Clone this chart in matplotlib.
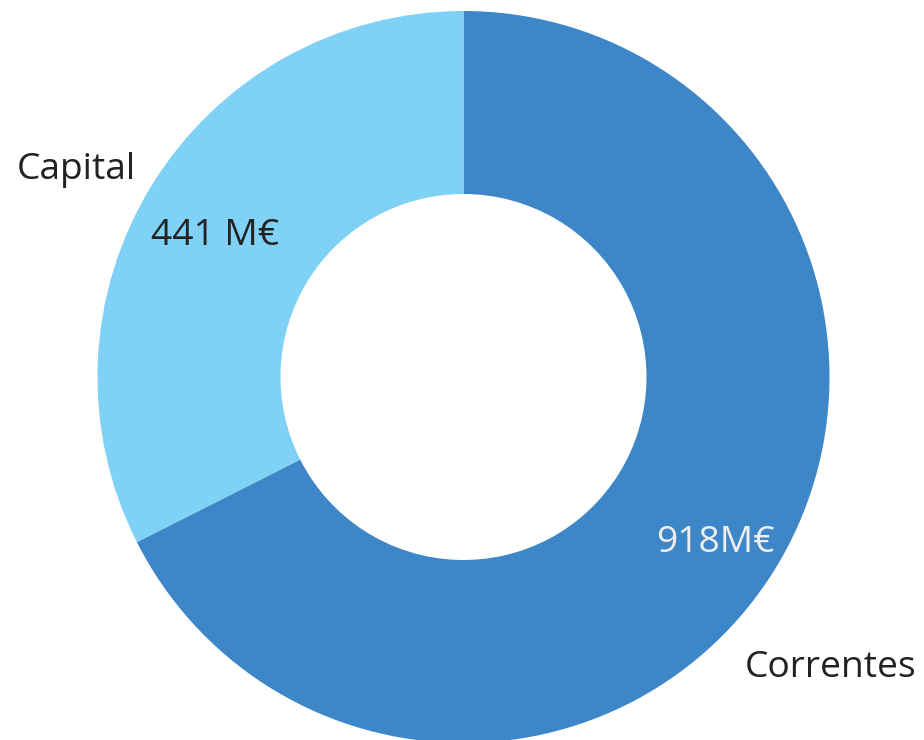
import matplotlib.pyplot as plt

# despesa por tipo
categories = ["Correntes", "Capital"]
values = [918, 441]
value_labels = ["918M€", "441 M€"]
colors = ["#3d87c8", "#7fd1f5"]

W, H = 924, 740
plt.rcParams["font.family"] = ["Open Sans", "DejaVu Sans"]

fig = plt.figure(figsize=(W / 100, H / 100), dpi=100)
ax = fig.add_axes([0, 0, 1, 1])

cx, cy, r = 463.5, H - 377, 366
ax.pie(values, colors=colors, startangle=90, counterclock=False,
       center=(cx, cy), radius=r, frame=True,
       wedgeprops=dict(width=r * 0.5, linewidth=0))
ax.set_xlim(0, W)
ax.set_ylim(0, H)
ax.set_aspect("equal")
ax.axis("off")

fs = 26.7
ax.text(916, H - 668, categories[0], ha="right", va="center", fontsize=fs, color="#222222")
ax.text(136, H - 170, categories[1], ha="right", va="center", fontsize=fs, color="#222222")
ax.text(715, H - 543, value_labels[0], ha="center", va="center", fontsize=fs, color="#eeeeee")
ax.text(215, H - 236, value_labels[1], ha="center", va="center", fontsize=fs, color="#222222")

fig.savefig("out.png", dpi=100)
